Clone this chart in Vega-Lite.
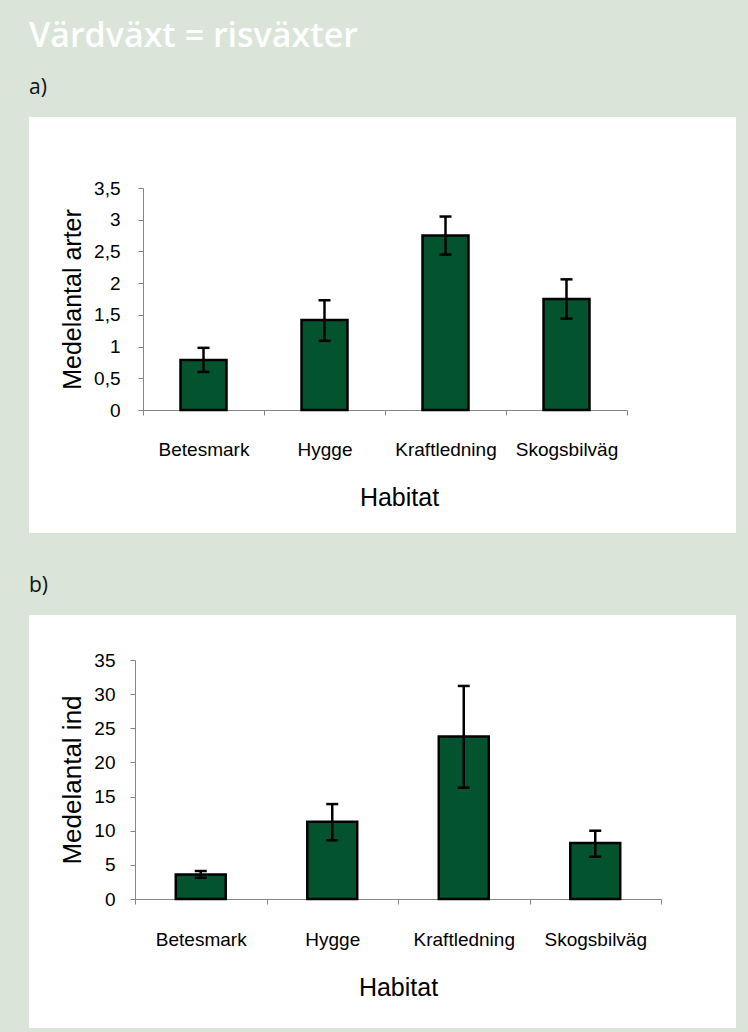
{
  "$schema": "https://vega.github.io/schema/vega-lite/v6.json",
  "background": "#dae4d9",
  "padding": {"left": 29, "top": 20, "right": 12, "bottom": 4},
  "title": {"text": "Värdväxt = risväxter", "anchor": "start", "font": "Open Sans", "fontSize": 34, "fontWeight": 600, "color": "white", "offset": -4, "baseline": "alphabetic"},
  "datasets": {
    "a": [
      {"habitat": "Betesmark", "mean": 0.79, "lo": 0.60, "hi": 0.98},
      {"habitat": "Hygge", "mean": 1.42, "lo": 1.09, "hi": 1.73},
      {"habitat": "Kraftledning", "mean": 2.75, "lo": 2.45, "hi": 3.05},
      {"habitat": "Skogsbilväg", "mean": 1.75, "lo": 1.44, "hi": 2.06}
    ],
    "b": [
      {"habitat": "Betesmark", "mean": 3.6, "lo": 3.1, "hi": 4.1},
      {"habitat": "Hygge", "mean": 11.3, "lo": 8.6, "hi": 13.9},
      {"habitat": "Kraftledning", "mean": 23.8, "lo": 16.3, "hi": 31.2},
      {"habitat": "Skogsbilväg", "mean": 8.2, "lo": 6.2, "hi": 10.0}
    ]
  },
  "spacing": 42,
  "vconcat": [
    {
      "title": {"text": "a)", "anchor": "start", "font": "Open Sans", "fontSize": 21, "fontWeight": "normal", "color": "#111111", "offset": 2, "baseline": "alphabetic"},
      "width": 707,
      "height": 416,
      "data": {"name": "a"},
      "encoding": {
        "x": {"field": "habitat", "type": "nominal", "sort": null,
          "scale": {"range": [114, 598], "paddingInner": 0, "paddingOuter": 0},
          "axis": {"title": "Habitat", "labelAngle": 0, "offset": -123, "tickBand": "extent", "tickSize": 5, "labelPadding": 25, "titlePadding": 26, "titleX": 370}}
      },
      "layer": [
        {"mark": {"type": "bar", "fill": "#03532f", "stroke": "black", "strokeWidth": 2.5, "width": {"band": 0.38}},
         "encoding": {
           "y": {"field": "mean", "type": "quantitative", "title": "Medelantal arter",
             "scale": {"domain": [0, 3.5], "range": [293, 71], "nice": false, "zero": false},
             "axis": {"values": [0, 0.5, 1, 1.5, 2, 2.5, 3, 3.5], "offset": -114, "labelExpr": "replace(toString(datum.value), '.', ',')", "labelPadding": 18, "titlePadding": 8, "titleFontSize": 25}},
           "y2": {"datum": 0}}},
        {"mark": {"type": "rule", "color": "black", "strokeWidth": 2.5},
         "encoding": {"y": {"field": "lo", "type": "quantitative", "title": "Medelantal arter"}, "y2": {"field": "hi"}}},
        {"mark": {"type": "tick", "color": "black", "thickness": 2.5, "size": 12, "opacity": 1},
         "encoding": {"y": {"field": "lo", "type": "quantitative", "title": "Medelantal arter"}}},
        {"mark": {"type": "tick", "color": "black", "thickness": 2.5, "size": 12, "opacity": 1},
         "encoding": {"y": {"field": "hi", "type": "quantitative", "title": "Medelantal arter"}}}
      ]
    },
    {
      "title": {"text": "b)", "anchor": "start", "font": "Open Sans", "fontSize": 21, "fontWeight": "normal", "color": "#111111", "offset": 2, "baseline": "alphabetic"},
      "width": 707,
      "height": 413,
      "data": {"name": "b"},
      "encoding": {
        "x": {"field": "habitat", "type": "nominal", "sort": null,
          "scale": {"range": [106, 632], "paddingInner": 0, "paddingOuter": 0},
          "axis": {"title": "Habitat", "labelAngle": 0, "offset": -129, "tickBand": "extent", "tickSize": 5, "labelPadding": 26, "titlePadding": 26}}
      },
      "layer": [
        {"mark": {"type": "bar", "fill": "#03532f", "stroke": "black", "strokeWidth": 2.5, "width": {"band": 0.38}},
         "encoding": {
           "y": {"field": "mean", "type": "quantitative", "title": "Medelantal ind",
             "scale": {"domain": [0, 35], "range": [284, 45], "nice": false, "zero": false},
             "axis": {"values": [0, 5, 10, 15, 20, 25, 30, 35], "offset": -106, "labelPadding": 15, "titlePadding": 8, "titleFontSize": 26}},
           "y2": {"datum": 0}}},
        {"mark": {"type": "rule", "color": "black", "strokeWidth": 2.5},
         "encoding": {"y": {"field": "lo", "type": "quantitative", "title": "Medelantal ind"}, "y2": {"field": "hi"}}},
        {"mark": {"type": "tick", "color": "black", "thickness": 2.5, "size": 12, "opacity": 1},
         "encoding": {"y": {"field": "lo", "type": "quantitative", "title": "Medelantal ind"}}},
        {"mark": {"type": "tick", "color": "black", "thickness": 2.5, "size": 12, "opacity": 1},
         "encoding": {"y": {"field": "hi", "type": "quantitative", "title": "Medelantal ind"}}}
      ]
    }
  ],
  "config": {
    "font": "Liberation Sans",
    "view": {"fill": "white", "stroke": null},
    "axis": {"grid": false, "domainColor": "#868686", "tickColor": "#868686", "domainWidth": 1, "tickWidth": 1,
      "labelFont": "Liberation Sans", "labelFontSize": 19, "labelColor": "black",
      "titleFont": "Liberation Sans", "titleFontSize": 25, "titleFontWeight": "normal", "titleColor": "black"}
  }
}
